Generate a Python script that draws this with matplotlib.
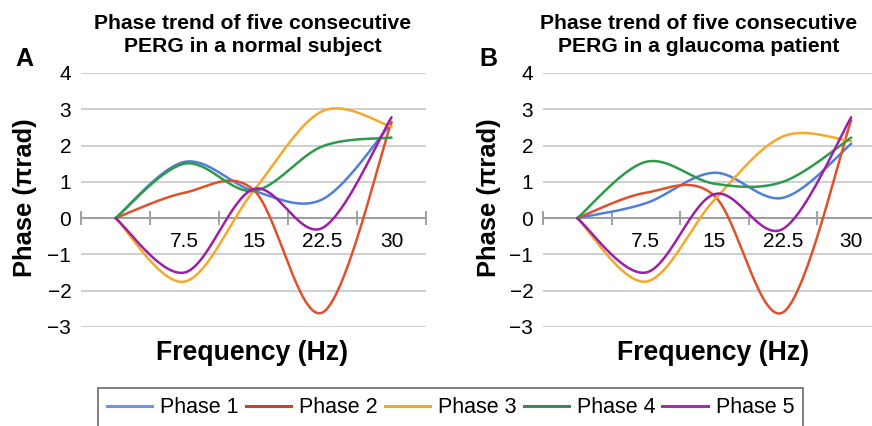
import numpy as np
import matplotlib
matplotlib.use("Agg")
from matplotlib import pyplot as plt
from matplotlib.lines import Line2D

plt.rcParams['font.family'] = ['Liberation Sans', 'DejaVu Sans']

# data
freq = [0, 7.5, 15, 22.5, 30]
labels = ['Phase 1', 'Phase 2', 'Phase 3', 'Phase 4', 'Phase 5']
colors = ['#4F7FD8', '#E0502A', '#F5A82A', '#2E9A4A', '#9C1FA8']
legend_colors = ['#6A95E6', '#C8452D', '#F5A623', '#3A8A5A', '#A030B0']

# A - normal subject
normal_p1 = [0, 1.55, 0.75, 0.52, 2.62]
normal_p2 = [0, 0.70, 0.78, -2.60, 2.65]
normal_p3 = [0, -1.75, 0.75, 2.95, 2.52]
normal_p4 = [0, 1.50, 0.75, 1.98, 2.22]
normal_p5 = [0, -1.50, 0.80, -0.27, 2.78]

# B - glaucoma patient
glauc_p1 = [0, 0.41, 1.25, 0.56, 2.05]
glauc_p2 = [0, 0.70, 0.62, -2.60, 2.70]
glauc_p3 = [0, -1.75, 0.50, 2.25, 2.12]
glauc_p4 = [0, 1.55, 0.95, 1.00, 2.22]
glauc_p5 = [0, -1.50, 0.66, -0.30, 2.78]

yticks = [4, 3, 2, 1, 0, -1, -2, -3]
xlabels = ['7.5', '15', '22.5', '30']


def smooth(x, y, n=60):
    # Excel-like smoothed line: cubic bezier through the points
    P = np.column_stack([x, y]).astype(float)
    ext = np.vstack([P[0], P, P[-1]])
    t = np.linspace(0, 1, n)[:, None]
    out = []
    for i in range(len(P) - 1):
        p0, p1 = P[i], P[i + 1]
        c1 = p0 + (ext[i + 2] - ext[i]) / 6
        c2 = p1 - (ext[i + 3] - ext[i + 1]) / 6
        seg = ((1 - t) ** 3) * p0 + 3 * ((1 - t) ** 2) * t * c1 + 3 * (1 - t) * t ** 2 * c2 + t ** 3 * p1
        out.append(seg)
    out = np.vstack(out)
    return out[:, 0], out[:, 1]


fig = plt.figure(figsize=(8.72, 4.26), dpi=100)
W, H = 872, 426

panels = [
    (81, 345, [normal_p1, normal_p2, normal_p3, normal_p4, normal_p5]),
    (543, 342.5, [glauc_p1, glauc_p2, glauc_p3, glauc_p4, glauc_p5]),
]

for left, width, series in panels:
    ax = fig.add_axes([left / W, (H - 327) / H, width / W, 254 / H])
    ax.set_xlim(-3.75, 33.75)
    ax.set_ylim(-3, 4)
    for s, c in zip(series, colors):
        xs, ys = smooth(freq, s)
        ax.plot(xs, ys, color=c, lw=1.8, solid_capstyle='round', zorder=3)
    for sp in ['top', 'right', 'left']:
        ax.spines[sp].set_visible(False)
    ax.spines['bottom'].set_position(('data', 0))
    ax.spines['bottom'].set_color('#9A9A9A')
    ax.spines['bottom'].set_linewidth(1.3)
    ax.set_yticks(yticks)
    ax.set_yticklabels([str(v).replace('-', '\u2212') for v in yticks], fontsize=15)
    ax.tick_params(axis='y', length=0, pad=7)
    ax.yaxis.grid(True, color='#CBCBCB', lw=1.3)
    ax.set_axisbelow(True)
    ax.set_xticks([7.5, 15, 22.5, 30])
    ax.set_xticklabels(xlabels, fontsize=15)
    ax.set_xticks([-3.75, 3.75, 11.25, 15, 18.75, 26.25, 30, 33.75], minor=True)
    ax.tick_params(axis='x', which='major', length=0, pad=10)
    ax.tick_params(axis='x', which='minor', direction='inout', length=10, width=1.3, color='#9A9A9A')
    ax.patch.set_alpha(0)

title_kw = dict(fontsize=15.2, fontweight='bold', ha='center', va='center', linespacing=1.25)
fig.text(253 / W, 1 - 35 / H, 'Phase trend of five consecutive\nPERG in a normal subject', **title_kw)
fig.text(699 / W, 1 - 35 / H, 'Phase trend of five consecutive\nPERG in a glaucoma patient', **title_kw)

fig.text(24 / W, 1 - 59 / H, 'A', fontsize=18, fontweight='bold', ha='center', va='center')
fig.text(488 / W, 1 - 59 / H, 'B', fontsize=18, fontweight='bold', ha='center', va='center')

for x in (25, 489):
    fig.text(x / W, 1 - 198 / H, 'Phase (\u03c0rad)', fontsize=18.4, fontweight='bold',
             rotation=90, ha='center', va='center')
for x in (252, 713):
    fig.text(x / W, 1 - 353 / H, 'Frequency (Hz)', fontsize=19.2, fontweight='bold',
             ha='center', va='center')

handles = [Line2D([0], [0], color=c, lw=2.2) for c in legend_colors]
leg = fig.legend(handles, labels, ncol=5, loc='upper left',
                 bbox_to_anchor=(98 / W, 1 - 388 / H), fontsize=15.5,
                 frameon=True, fancybox=False, edgecolor='#444444',
                 handlelength=2.1, handletextpad=0.37, columnspacing=0.33,
                 borderpad=0.42, borderaxespad=0)
leg.get_frame().set_linewidth(1.2)

fig.savefig('out.png', dpi=100)
